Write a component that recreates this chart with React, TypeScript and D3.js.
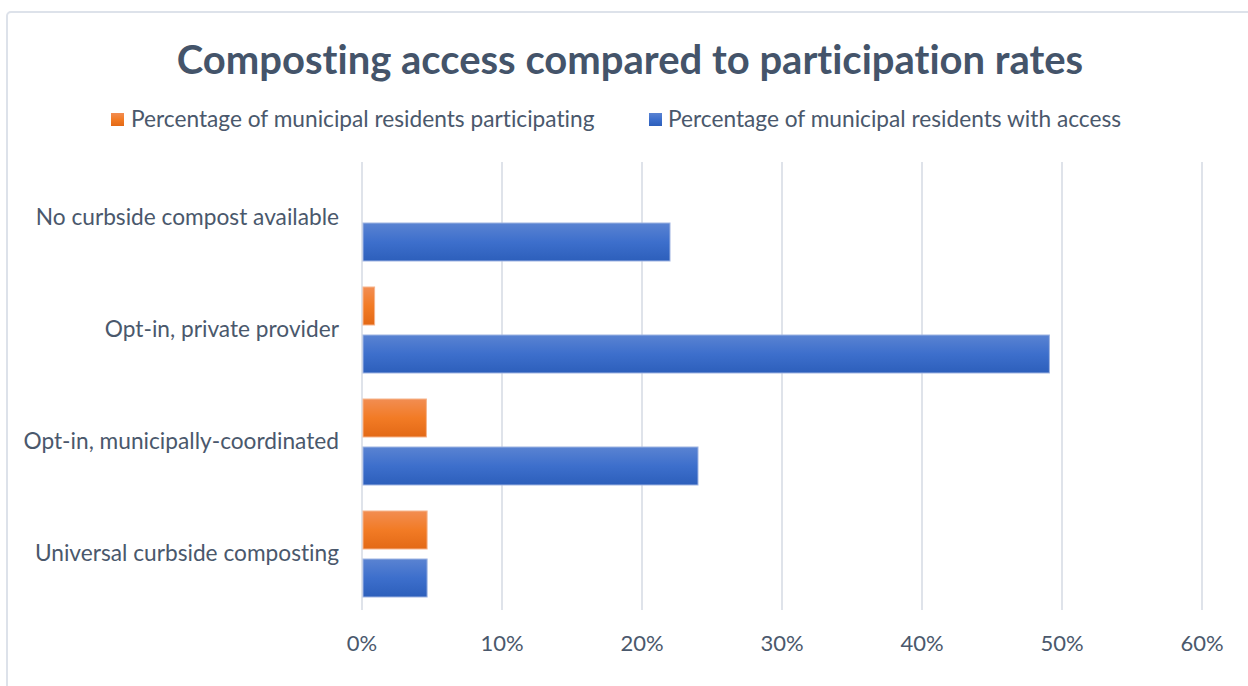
import React, { useEffect } from "react";
import * as d3 from "d3";

const categories = [
  "No curbside compost available",
  "Opt-in, private provider",
  "Opt-in, municipally-coordinated",
  "Universal curbside composting",
];
const seriesNames = [
  "Percentage of municipal residents participating",
  "Percentage of municipal residents with access",
];
const participating = [0, 0.009, 0.046, 0.0465];
const access = [0.22, 0.491, 0.24, 0.0465];
const xTicks = [0, 0.1, 0.2, 0.3, 0.4, 0.5, 0.6];

const W = 1248;
const H = 686;
const FONT = "Lato, 'Open Sans', sans-serif";
const TEXT = "#4a586c";
const noLig = { fontVariantLigatures: "none" } as React.CSSProperties;

export default function App() {
  useEffect(() => {
    document.body.style.margin = "0";
  }, []);

  const x = d3.scaleLinear().domain([0, 0.6]).range([362, 1202]);
  const y = d3.scaleBand<string>().domain(categories).range([162, 610]);
  const sub = d3
    .scaleBand<string>()
    .domain(seriesNames)
    .range([0, y.bandwidth()])
    .paddingInner(0.2083)
    .paddingOuter(0.2708);
  const series = [
    { name: seriesNames[0], values: participating, grad: "gOrange", stroke: "#f6b48c" },
    { name: seriesNames[1], values: access, grad: "gBlue", stroke: "#9fb4e2" },
  ];
  const fmt = d3.format(".0%");

  return (
    <svg width={W} height={H} style={{ display: "block", background: "#fff" }}>
      <defs>
        <linearGradient id="gOrange" x1="0" y1="0" x2="0" y2="1">
          <stop offset="0" stopColor="#f28d52" />
          <stop offset="0.5" stopColor="#f27b25" />
          <stop offset="1" stopColor="#e36916" />
        </linearGradient>
        <linearGradient id="gBlue" x1="0" y1="0" x2="0" y2="1">
          <stop offset="0" stopColor="#5a83d2" />
          <stop offset="0.5" stopColor="#3d6fcc" />
          <stop offset="1" stopColor="#2d5fbb" />
        </linearGradient>
      </defs>
      <rect x={7} y={12} width={W + 20} height={H + 20} rx={4} fill="#fff" stroke="#dde2ea" strokeWidth={2} />
      <text x={630} y={74} textAnchor="middle" fontFamily={FONT} fontWeight={700} fontSize={40} fill="#44546a" style={noLig}>
        Composting access compared to participation rates
      </text>
      {/* legend */}
      <rect x={111} y={113} width={13} height={13} fill="url(#gOrange)" />
      <text x={131} y={127} fontFamily={FONT} fontSize={22.7} fill={TEXT} style={noLig}>{seriesNames[0]}</text>
      <rect x={649} y={113} width={13} height={13} fill="url(#gBlue)" />
      <text x={668} y={127} fontFamily={FONT} fontSize={22.7} fill={TEXT} style={noLig}>{seriesNames[1]}</text>
      {/* gridlines */}
      {xTicks.map((t) => (
        <line key={t} x1={x(t)} x2={x(t)} y1={162} y2={610} stroke="#dfe3ea" strokeWidth={2} />
      ))}
      {xTicks.map((t) => (
        <text key={"l" + t} x={x(t)} y={651} textAnchor="middle" fontFamily={FONT} fontSize={22} fill={TEXT}>
          {fmt(t)}
        </text>
      ))}
      {categories.map((c) => (
        <text key={c} x={339} y={(y(c) as number) + 63} textAnchor="end" fontFamily={FONT} fontSize={22.7} fill={TEXT} style={noLig}>
          {c}
        </text>
      ))}
      {categories.map((c, i) =>
        series.map((s) =>
          s.values[i] > 0 ? (
            <rect
              key={c + s.name}
              x={x(0) + 1}
              y={(y(c) as number) + (sub(s.name) as number)}
              width={x(s.values[i]) - x(0) - 1}
              height={sub.bandwidth()}
              fill={`url(#${s.grad})`}
              stroke={s.stroke}
              strokeWidth={1}
            />
          ) : null
        )
      )}
    </svg>
  );
}
